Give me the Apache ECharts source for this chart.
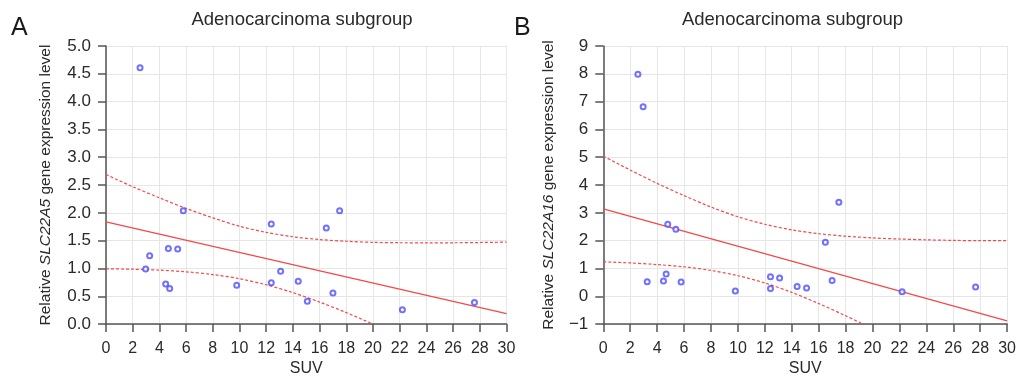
<!DOCTYPE html>
<html><head><meta charset="utf-8">
<script src="https://cdn.jsdelivr.net/npm/echarts@6/dist/echarts.min.js"></script>
<style>html,body{margin:0;padding:0;background:#fff}#c{width:1019px;height:382px}</style>
</head><body><div id="c"></div>
<script>
// ---- data ----
const suv = [2.55, 2.97, 3.27, 4.47, 4.67, 4.77, 5.37, 5.79, 9.79, 12.38, 12.38, 13.08, 14.4, 15.08, 16.5, 17.0, 17.5, 22.2, 27.6];
const exprA = [4.61, 0.99, 1.23, 0.72, 1.36, 0.64, 1.35, 2.04, 0.70, 1.80, 0.745, 0.95, 0.77, 0.41, 1.73, 0.56, 2.04, 0.26, 0.39];
const suvB = [2.57, 2.96, 3.26, 4.47, 4.67, 4.79, 5.39, 5.78, 9.81, 12.42, 12.42, 13.1, 14.4, 15.1, 16.5, 17.0, 17.5, 22.2, 27.66];
const exprB = [7.98, 6.82, 0.52, 0.55, 0.80, 2.59, 2.41, 0.51, 0.19, 0.70, 0.28, 0.66, 0.35, 0.30, 1.94, 0.57, 3.38, 0.16, 0.33];

const fitX = [0, 30];
const fitA = [1.84, 0.187];
const fitB = [3.14, -0.88];

const bandX = [0, 2, 4, 6, 8, 10, 12, 14, 16, 18, 20, 22, 24, 26, 28, 30];
const upperA = [2.69, 2.47, 2.27, 2.08, 1.91, 1.76, 1.65, 1.57, 1.52, 1.49, 1.47, 1.463, 1.461, 1.462, 1.467, 1.474];
const lowerAX = [0, 2, 4, 6, 8, 10, 12, 14, 16, 18, 20];
const lowerA = [0.994, 0.987, 0.970, 0.940, 0.891, 0.816, 0.707, 0.566, 0.396, 0.207, 0.0];
const upperB = [5.04, 4.54, 4.06, 3.62, 3.21, 2.86, 2.59, 2.39, 2.25, 2.16, 2.10, 2.06, 2.03, 2.01, 2.00, 2.00];
const lowerBX = [0, 2, 4, 6, 8, 10, 12, 14, 16, 18, 19.3];
const lowerB = [1.24, 1.20, 1.14, 1.06, 0.93, 0.74, 0.48, 0.14, -0.26, -0.70, -1.0];

const xTicks = {min: 0, max: 30, interval: 2};
const yTicksA = {min: 0, max: 5, interval: 0.5};
const yTicksB = {min: -1, max: 9, interval: 1};

const titleText = 'Adenocarcinoma subgroup';
const xName = 'SUV';
const geneA = 'SLC22A5';
const geneB = 'SLC22A16';
// ------------------------------------

const zip = (xs, ys) => xs.map((x, i) => [x, ys[i]]);
const FONT = '"Liberation Sans", Arial, Helvetica, sans-serif';
const RED = '#f24a4a';
const BLUE = '#4d4dff';
const AX = '#555';
const TXT = '#2a2a2a';

function xAxis(gi) {
  return {
    type: 'value', gridIndex: gi, min: xTicks.min, max: xTicks.max, interval: xTicks.interval,
    name: xName, nameLocation: 'middle', nameGap: 25,
    nameTextStyle: {fontFamily: FONT, fontSize: 16, color: TXT},
    axisLine: {show: true, onZero: false, lineStyle: {color: AX, width: 1.5}},
    axisTick: {show: true, length: 8, lineStyle: {color: AX, width: 1.5}},
    axisLabel: {fontFamily: FONT, fontSize: 16, color: TXT, margin: 16},
    splitLine: {show: true, lineStyle: {color: '#e6e6e6', width: 1}}
  };
}
function yAxis(gi, t, gene, dec, gap) {
  return {
    type: 'value', gridIndex: gi, min: t.min, max: t.max, interval: t.interval,
    name: '{n|Relative }{i|' + gene + '}{n| gene expression level}',
    nameLocation: 'middle', nameGap: gap, nameRotate: 90,
    nameTextStyle: {rich: {n: {fontFamily: FONT, fontSize: 15.5, color: TXT},
                            i: {fontFamily: FONT, fontSize: 15.5, color: TXT, fontStyle: 'italic'}}},
    axisLine: {show: true, onZero: false, lineStyle: {color: AX, width: 1.5}},
    axisTick: {show: true, length: 8, lineStyle: {color: AX, width: 1.5}},
    axisLabel: {fontFamily: FONT, fontSize: 17, color: TXT, margin: 15,
                formatter: v => dec ? v.toFixed(1) : (v < 0 ? '\u2212' + Math.abs(v) : String(v))},
    splitLine: {show: true, lineStyle: {color: '#e6e6e6', width: 1}}
  };
}
function lineS(gi, data, dashed) {
  return {
    type: 'line', xAxisIndex: gi, yAxisIndex: gi, data: data, showSymbol: false, symbol: 'none',
    smooth: dashed ? 0.3 : false, clip: true, silent: true, z: 3,
    lineStyle: {color: RED, width: dashed ? 1.2 : 1.3, type: dashed ? [3, 2] : 'solid'}
  };
}
function scat(gi, xs, ys) {
  return {
    type: 'scatter', xAxisIndex: gi, yAxisIndex: gi, data: zip(xs, ys),
    symbol: 'emptyCircle', symbolSize: 5, z: 5,
    itemStyle: {color: BLUE, borderColor: BLUE, borderWidth: 1.3}
  };
}

const chart = echarts.init(document.getElementById('c'), null, {renderer: 'canvas'});
chart.setOption({
  animation: false,
  backgroundColor: '#fff',
  grid: [
    {left: 106, right: 512.5, top: 46, bottom: 56.3},
    {left: 603.3, right: 11, top: 46, bottom: 56.3}
  ],
  xAxis: [xAxis(0), xAxis(1)],
  yAxis: [yAxis(0, yTicksA, geneA, true, 52), yAxis(1, yTicksB, geneB, false, 47)],
  graphic: [
    {type: 'text', left: 11, top: 16, style: {text: 'A', font: '25px ' + FONT, fill: '#1a1a1a'}},
    {type: 'text', left: 514, top: 16, style: {text: 'B', font: '25px ' + FONT, fill: '#1a1a1a'}},
    {type: 'text', x: 302, y: 20, style: {text: titleText, font: '18.5px ' + FONT, fill: TXT, textAlign: 'center', textVerticalAlign: 'middle'}},
    {type: 'text', x: 792.5, y: 20, style: {text: titleText, font: '18.5px ' + FONT, fill: TXT, textAlign: 'center', textVerticalAlign: 'middle'}}
  ],
  series: [
    lineS(0, zip(fitX, fitA), false),
    lineS(0, zip(bandX, upperA), true),
    lineS(0, zip(lowerAX, lowerA), true),
    scat(0, suv, exprA),
    lineS(1, zip(fitX, fitB), false),
    lineS(1, zip(bandX, upperB), true),
    lineS(1, zip(lowerBX, lowerB), true),
    scat(1, suvB, exprB)
  ]
});
</script></body></html>
